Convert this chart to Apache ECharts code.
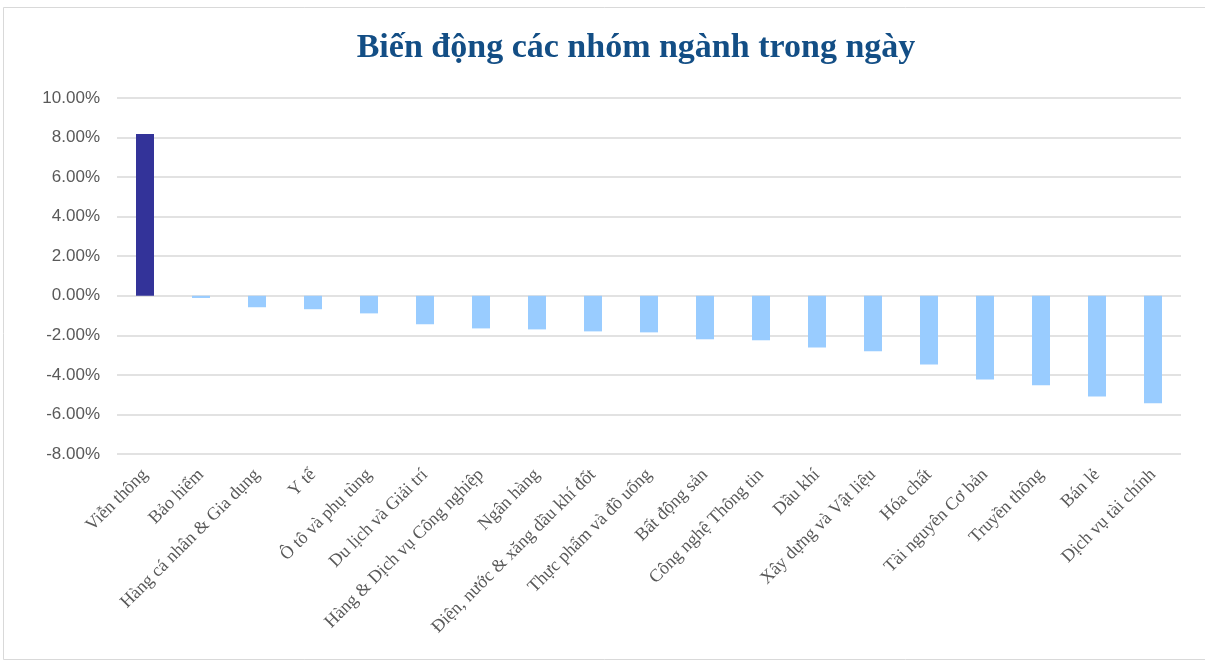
<!DOCTYPE html>
<html>
<head>
<meta charset="utf-8">
<script src="https://cdn.jsdelivr.net/npm/echarts@6/dist/echarts.min.js"></script>
<style>html,body{margin:0;padding:0;background:#fff}#c{width:1205px;height:662px}</style>
</head>
<body>
<div id="c"></div>
<script>
const titleText = 'Biến động các nhóm ngành trong ngày';
const categories = ['Viễn thông','Bảo hiểm','Hàng cá nhân & Gia dụng','Y tế','Ô tô và phụ tùng','Du lịch và Giải trí','Hàng & Dịch vụ Công nghiệp','Ngân hàng','Điện, nước & xăng dầu khí đốt','Thực phẩm và đồ uống','Bất động sản','Công nghệ Thông tin','Dầu khí','Xây dựng và Vật liệu','Hóa chất','Tài nguyên Cơ bản','Truyền thông','Bán lẻ','Dịch vụ tài chính'];
const changes = [8.18,-0.11,-0.58,-0.68,-0.89,-1.44,-1.65,-1.70,-1.80,-1.85,-2.20,-2.25,-2.61,-2.81,-3.47,-4.23,-4.53,-5.09,-5.44];
const yMin = -8, yMax = 10, yStep = 2;

const chart = echarts.init(document.getElementById('c'), null, {renderer:'canvas'});
chart.setOption({
  animation:false,
  backgroundColor:'#fff',
  graphic:[{type:'rect',shape:{x:3.5,y:7.5,width:1220,height:652},style:{fill:'none',stroke:'#d9d9d9',lineWidth:1},silent:true}],
  title:{text:titleText,left:631,textAlign:'center',top:26,textStyle:{fontFamily:'Liberation Serif',fontWeight:'bold',fontSize:34,color:'#134e85'}},
  grid:{left:117,right:24,top:98,bottom:208,containLabel:false},
  xAxis:{type:'category',data:categories,
    axisLine:{show:false,onZero:false},axisTick:{show:false},
    axisLabel:{rotate:45,interval:0,margin:18,color:'#595959',fontFamily:'Liberation Serif',fontSize:18}},
  yAxis:{type:'value',min:yMin,max:yMax,interval:yStep,
    axisLine:{show:false},axisTick:{show:false},
    axisLabel:{formatter:v=>v.toFixed(2)+'%',color:'#595959',fontFamily:'Liberation Sans',fontSize:17,margin:17},
    splitLine:{lineStyle:{color:'#d9d9d9',width:1.5}}},
  series:[{type:'bar',data:changes.map(v=>({value:v,itemStyle:{color:v>0?'#333399':'#99ccff'}})),barWidth:18}]
});
</script>
</body>
</html>
